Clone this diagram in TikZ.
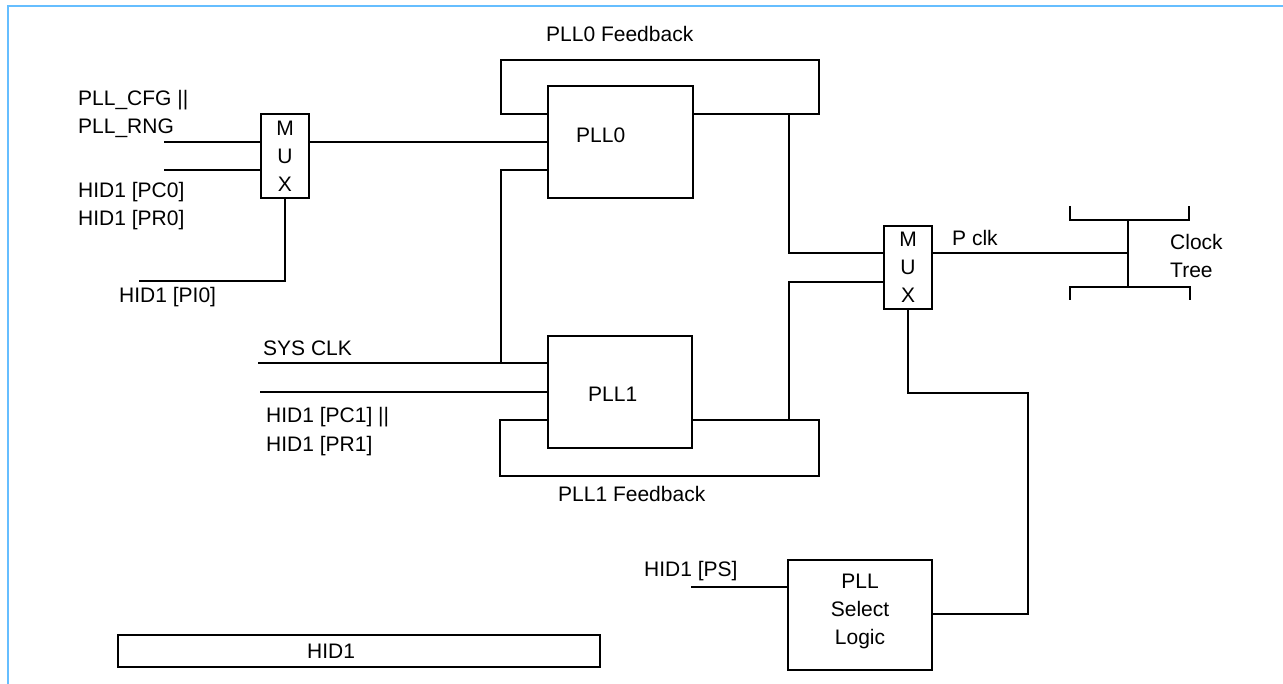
\documentclass[tikz,border=0pt]{standalone}
\usepackage{fontspec}
\setmainfont{Liberation Sans}
\definecolor{framebl}{RGB}{102,190,255}
\begin{document}
\begin{tikzpicture}[x=1pt,y=-1pt,
  wire/.style={line width=2pt,line join=miter},
  blockbox/.style={draw,line width=2pt,inner sep=0pt,align=center,
    font=\fontsize{21}{28}\selectfont},
  lbl/.style={inner sep=0pt,anchor=base west,font=\fontsize{21}{28}\selectfont},
  clbl/.style={inner sep=0pt,align=center,font=\fontsize{21}{28}\selectfont}]
\useasboundingbox (0,0) rectangle (1283,684);
\fill[white] (0,0) rectangle (1283,684);
% frame
\draw[framebl,line width=2.6pt] (8,700) -- (8,6) -- (1300,6);

% blocks
\node[blockbox,minimum width=48pt,minimum height=84pt] (mux0) at (285,156) {M\\U\\X};
\node[blockbox,minimum width=145pt,minimum height=112pt] (pll0) at (620.5,142) {};
\node[blockbox,minimum width=144pt,minimum height=112pt] (pll1) at (620,392) {};
\node[blockbox,minimum width=48pt,minimum height=83pt] (mux1) at (908,267.5) {M\\U\\X};
\node[blockbox,minimum width=144pt,minimum height=110pt] (sel) at (860,615) {};
\node[blockbox,minimum width=482pt,minimum height=32pt] (hid) at (359,651) {};

% texts
\node[clbl] (selt) at (860,611) {PLL\\Select\\Logic};
\node[lbl] (t1) at (78,106) {PLL\_CFG ||};
\node[lbl] (t2) at (78,134) {PLL\_RNG};
\node[lbl] (t3) at (78,198) {HID1 [PC0]};
\node[lbl] (t4) at (78,226) {HID1 [PR0]};
\node[lbl] (t5) at (119,303) {HID1 [PI0]};
\node[lbl] (t6) at (546,42) {PLL0 Feedback};
\node[lbl] (t7) at (263,356) {SYS CLK};
\node[lbl] (t8) at (266,423) {HID1 [PC1] ||};
\node[lbl] (t9) at (266,452) {HID1 [PR1]};
\node[lbl] (t10) at (558,501) {PLL1 Feedback};
\node[lbl] (t11) at (952,246) {P clk};
\node[lbl] (t12) at (1170,250) {Clock};
\node[lbl] (t13) at (1170,278) {Tree};
\node[lbl] (t14) at (644,576) {HID1 [PS]};
\node[lbl] (t15) at (307,658) {HID1};
\node[lbl] (t16) at (576,143) {PLL0};
\node[lbl] (t17) at (588,402) {PLL1};

% coordinates
\coordinate (in1) at (164,142);
\coordinate (in2) at (164,170);
\coordinate (pi0) at (139,281);
\coordinate (y114) at (0,114);
\coordinate (y170) at (0,170);
\coordinate (fb0l) at (501,60);
\coordinate (fb0r) at (819,114);
\coordinate (tap0) at (789,114);
\coordinate (y253) at (0,253);
\coordinate (y282) at (0,282);
\coordinate (sys) at (258,363);
\coordinate (j0) at (501,363);
\coordinate (in4) at (260,392);
\coordinate (y420) at (0,420);
\coordinate (fb1l) at (500,476);
\coordinate (fb1r) at (819,420);
\coordinate (tap1) at (789,420);
\coordinate (ct) at (1128,253);
\coordinate (ctt) at (1128,220);
\coordinate (ctb) at (1128,287);
\coordinate (sl) at (1028,393);
\coordinate (y614) at (0,614);
\coordinate (ps) at (691,587);

% MUX0
\draw[wire] (in1) -- (in1 -| mux0.west);
\draw[wire] (in2) -- (in2 -| mux0.west);
\draw[wire] (mux0.east |- in1) -- (pll0.west |- in1);
\draw[wire] (mux0.south) |- (pi0);
% PLL0 feedback
\draw[wire] (pll0.west |- y114) -| (fb0l) -| (fb0r) -- (pll0.east |- y114);
\draw[wire] (tap0) |- (mux1.west |- y253);
% SYS CLK
\draw[wire] (sys) -- (sys -| pll1.west);
\draw[wire] (j0) |- (pll0.west |- y170);
\draw[wire] (in4) -- (in4 -| pll1.west);
% PLL1 feedback
\draw[wire] (pll1.west |- y420) -| (fb1l) -| (fb1r) -- (pll1.east |- y420);
\draw[wire] (tap1) |- (mux1.west |- y282);
% output
\draw[wire] (mux1.east |- y253) -- (ct);
\draw[wire] (ctt) -- (ctb);
\draw[wire] (1070,206) |- (ctt) -| (1189,206);
\draw[wire] (1070,300) |- (ctb) -| (1190,300);
% select
\draw[wire] (mux1.south) |- (sl) |- (sel.east |- y614);
\draw[wire] (ps) -- (ps -| sel.west);
\end{tikzpicture}
\end{document}
